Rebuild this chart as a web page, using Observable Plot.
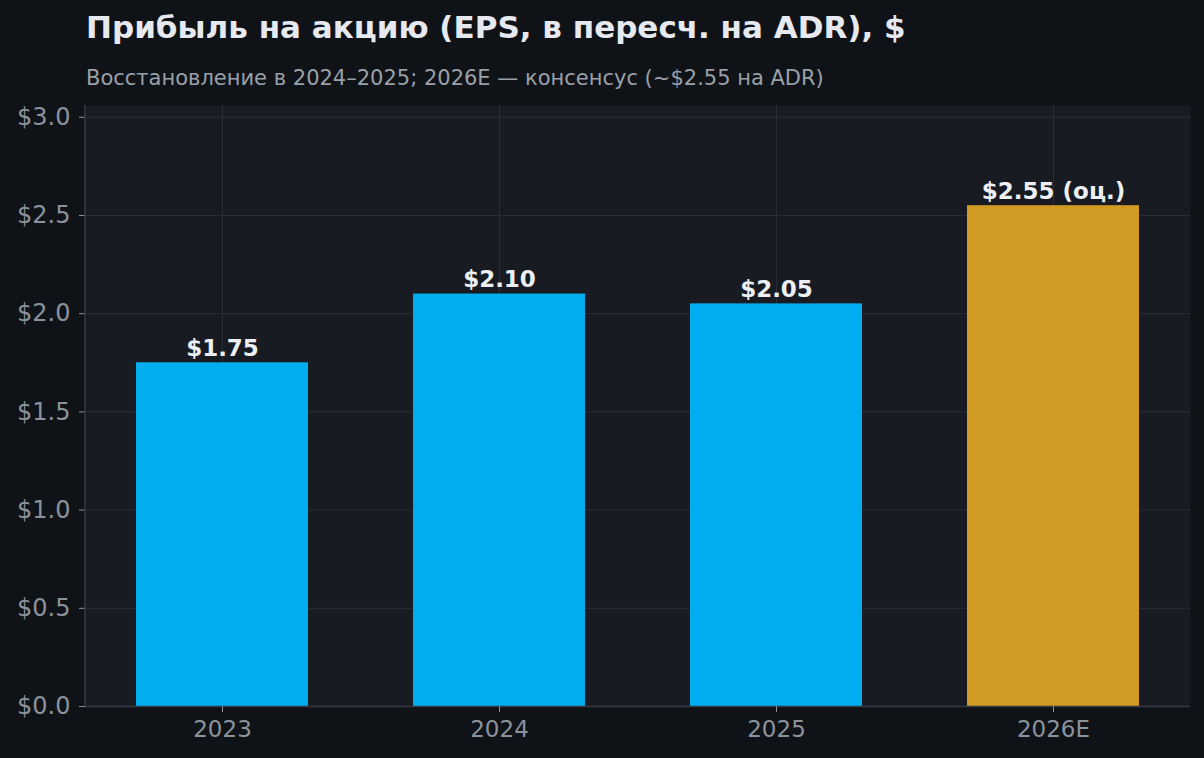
<!DOCTYPE html>
<html>
<head>
<meta charset="utf-8">
<script src="https://cdn.jsdelivr.net/npm/d3@7"></script>
<script src="https://cdn.jsdelivr.net/npm/@observablehq/plot@0.6"></script>
<style>
  html, body { margin: 0; padding: 0; background: #0f1317; }
  body { width: 1204px; height: 758px; overflow: hidden; font-family: "DejaVu Sans", sans-serif; }
  #head { position: relative; height: 100px; }
  #title { position: absolute; left: 86px; top: 12px; font-size: 31px; line-height: 1; font-weight: bold; color: #e6e9ef; white-space: nowrap; }
  #subtitle { position: absolute; left: 86px; top: 68px; font-size: 21px; line-height: 1; color: #9aa0a8; white-space: nowrap; }
</style>
</head>
<body>
<div id="head">
  <div id="title">Прибыль на акцию (EPS, в пересч. на ADR), $</div>
  <div id="subtitle">Восстановление в 2024–2025; 2026E — консенсус (~$2.55 на ADR)</div>
</div>
<div id="chart"></div>
<script>
const years = ["2023", "2024", "2025", "2026E"];
const eps = [1.75, 2.10, 2.05, 2.55];
const labels = ["$1.75", "$2.10", "$2.05", "$2.55 (оц.)"];
const kinds = ["факт", "факт", "факт", "оценка"];
const yTicks = [0, 0.5, 1.0, 1.5, 2.0, 2.5, 3.0];

const data = years.map((y, i) => ({year: y, eps: eps[i], label: labels[i], kind: kinds[i]}));

const chart = Plot.plot({
  width: 1204,
  height: 658,
  marginTop: 5,
  marginBottom: 52,
  marginLeft: 85,
  marginRight: 14,
  style: {background: "transparent", fontFamily: "DejaVu Sans, sans-serif", fontSize: "23px", color: "#8b929c"},
  x: {domain: years, paddingInner: 0.38, paddingOuter: 0.183, label: null},
  y: {domain: [0, 3.06], label: null},
  color: {domain: ["факт", "оценка"], range: ["#00aeef", "#d19a22"]},
  marks: [
    Plot.frame({fill: "#181b22", stroke: null}),
    Plot.gridY(yTicks, {stroke: "#2a2e37", strokeOpacity: 1, strokeWidth: 1}),
    Plot.gridX({stroke: "#2a2e37", strokeOpacity: 1, strokeWidth: 1}),
    Plot.barY(data, {x: "year", y: "eps", fill: "kind"}),
    Plot.ruleY([0], {stroke: "#363a43", strokeWidth: 1.5}),
    Plot.axisY({ticks: yTicks, tickFormat: d => "$" + d3.format(".1f")(d), tickSize: 6, tickPadding: 9, fontSize: 24, fill: "#8b929c", stroke: "#8b929c", label: null}),
    Plot.axisX({tickSize: 6, tickPadding: 8, fontSize: 23, fill: "#8b929c", stroke: "#8b929c", label: null}),
    Plot.text(data, {x: "year", y: "eps", text: "label", lineAnchor: "bottom", dy: -7, fontSize: 23, fontWeight: "bold", fill: "#eceff4"})
  ]
});
document.getElementById("chart").appendChild(chart);
// left spine
const svg = d3.select(chart);
svg.append("line").attr("x1", 85).attr("x2", 85).attr("y1", 5).attr("y2", 606).attr("stroke", "#363a43").attr("stroke-width", 1.5);
</script>
</body>
</html>
